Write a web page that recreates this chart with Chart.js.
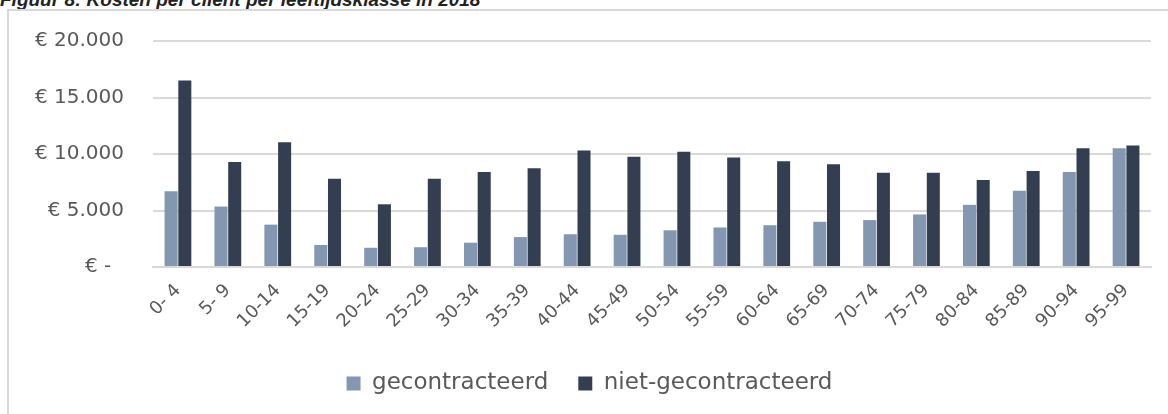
<!DOCTYPE html>
<html>
<head>
<meta charset="utf-8">
<script src="https://cdn.jsdelivr.net/npm/chart.js@4.4.0/dist/chart.umd.min.js"></script>
<style>
  html, body { margin: 0; padding: 0; background: #fff; overflow: hidden; }
  #wrap { position: relative; width: 1168px; height: 414px; overflow: hidden; }
  #title { position: absolute; left: 0; top: -11px; font: italic bold 19px "Liberation Sans", Arial, sans-serif; color: #222; white-space: nowrap; }
  #frame { position: absolute; left: 7px; top: 9px; width: 1300px; height: 500px; border-left: 2px solid #d9d9d9; border-top: 2px solid #d9d9d9; }
  canvas { position: absolute; left: 0; top: 0; }
</style>
</head>
<body>
<div id="wrap">
  <div id="title">Figuur 8: Kosten per cliënt per leeftijdsklasse in 2018</div>
  <div id="frame"></div>
  <canvas id="kostenChart" width="1168" height="414"></canvas>
</div>
<script>
// leeftijdsklassen
const ageGroups = ['0- 4', '5- 9', '10-14', '15-19', '20-24', '25-29', '30-34', '35-39', '40-44', '45-49',
  '50-54', '55-59', '60-64', '65-69', '70-74', '75-79', '80-84', '85-89', '90-94', '95-99'];

// kosten per client (euro)
const gecontracteerd = [6700, 5350, 3750, 1950, 1700, 1750, 2150, 2650, 2900, 2850,
  3250, 3500, 3700, 4000, 4150, 4650, 5500, 6750, 8400, 10500];
const nietGecontracteerd = [16500, 9300, 11050, 7800, 5550, 7800, 8400, 8750, 10300, 9750,
  10200, 9700, 9350, 9100, 8350, 8350, 7700, 8500, 10500, 10750];

const yTicks = [0, 5000, 10000, 15000, 20000];

const textColor = '#595959';
const fontFamily = '"DejaVu Sans", sans-serif';

function euro(v) {
  if (v === 0) return '€ -  ';
  return '€ ' + (v / 1000) + '.000';
}

const ctx = document.getElementById('kostenChart').getContext('2d');
new Chart(ctx, {
  type: 'bar',
  data: {
    labels: ageGroups,
    datasets: [{
      label: 'gecontracteerd',
      data: gecontracteerd,
      backgroundColor: '#8497b0',
      barPercentage: 0.95,
      categoryPercentage: 0.55
    }, {
      label: 'niet-gecontracteerd',
      data: nietGecontracteerd,
      backgroundColor: '#333f50',
      barPercentage: 0.95,
      categoryPercentage: 0.55
    }]
  },
  options: {
    responsive: false,
    animation: false,
    layout: { padding: { left: 28, right: 17, top: 39, bottom: 9 } },
    plugins: {
      legend: {
        position: 'bottom',
        labels: {
          boxWidth: 14,
          boxHeight: 14,
          padding: 30,
          color: textColor,
          font: { family: fontFamily, size: 23 }
        }
      },
      tooltip: { enabled: false }
    },
    scales: {
      x: {
        grid: { display: false, drawTicks: false },
        border: { display: true, color: '#d9d9d9', width: 2 },
        ticks: {
          color: textColor,
          font: { family: fontFamily, size: 18 },
          maxRotation: 45,
          minRotation: 45,
          padding: 13
        },
        afterFit: function (axis) { axis.height = 75; }
      },
      y: {
        min: 0,
        max: 20000,
        afterBuildTicks: function (axis) { axis.ticks = yTicks.map(v => ({ value: v })); },
        grid: { color: '#d9d9d9', lineWidth: 2, drawTicks: false },
        border: { display: false },
        ticks: {
          color: textColor,
          font: { family: fontFamily, size: 20 },
          padding: 29,
          callback: euro
        },
        afterFit: function (axis) { axis.width = 125; }
      }
    }
  }
});
</script>
</body>
</html>
